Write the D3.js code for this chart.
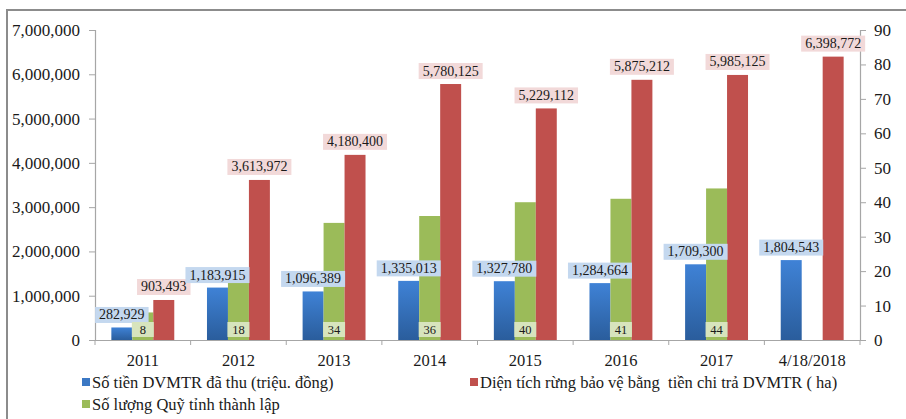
<!DOCTYPE html>
<html><head><meta charset="utf-8">
<script src="https://cdn.jsdelivr.net/npm/d3@7"></script>
</head>
<body style="margin:0">
<svg id="c" width="906" height="419" font-family="Liberation Serif" style="display:block;font-family:'Liberation Serif'"></svg>
<script>
const categories = ["2011","2012","2013","2014","2015","2016","2017","4/18/2018"];
const revenue = [282929,1183915,1096389,1335013,1327780,1284664,1709300,1804543];
const funds = [8,18,34,36,40,41,44,null];
const forestArea = [903493,3613972,4180400,5780125,5229112,5875212,5985125,6398772];
const leftTicks = [0,1000000,2000000,3000000,4000000,5000000,6000000,7000000];
const rightTicks = [0,10,20,30,40,50,60,70,80,90];
const seriesNames = ["Số tiền DVMTR đã thu (triệu. đồng)","Diện tích rừng bảo vệ bằng  tiền chi trả DVMTR ( ha)","Số lượng Quỹ tỉnh thành lập"];

const FONT = '"Liberation Serif"';
const svg = d3.select("#c");
const L = 95, R = 860, T = 30, B = 340;
const colBlue = "#3b78c4", colRed = "#c0504d", colGreen = "#9bbb59";
const textCol = "#1a1a1a", axisCol = "#a6a6a6";

const defs = svg.append("defs");
const g1 = defs.append("linearGradient").attr("id","gb").attr("x1",0).attr("y1",0).attr("x2",0).attr("y2",1);
g1.append("stop").attr("offset","0%").attr("stop-color","#3f82d6");
g1.append("stop").attr("offset","100%").attr("stop-color","#2a5d9c");

// frame
svg.append("path").attr("d","M7,419 V10 H906").attr("fill","none").attr("stroke","#8c8c8c").attr("stroke-width",2);

const x0 = d3.scaleBand().domain(categories).range([L,R]).padding(0);
const x1 = d3.scaleBand().domain(["b","g","r"]).range([0,x0.bandwidth()]).paddingInner(0).paddingOuter(0.78);
const y = d3.scaleLinear().domain([0,7000000]).range([B,T]);
const y2 = d3.scaleLinear().domain([0,90]).range([B,T]);

// axes
const fmt = d3.format(",");
const ax = svg.append("g").attr("transform",`translate(${L},0)`)
  .call(d3.axisLeft(y).tickValues(leftTicks).tickFormat(fmt).tickSize(6).tickPadding(9));
const ax2 = svg.append("g").attr("transform",`translate(${R},0)`)
  .call(d3.axisRight(y2).tickValues(rightTicks).tickSize(6).tickPadding(8));
const axb = svg.append("g").attr("transform",`translate(0,${B})`)
  .call(d3.axisBottom(x0).tickSize(0).tickPadding(14));
[ax,ax2,axb].forEach(a=>a.attr("font-family","Liberation Serif"));
[ax,ax2].forEach(a=>a.selectAll("text").style("font-size","17px"));
axb.selectAll("text").style("font-size","16.5px");
[ax,ax2,axb].forEach(a=>{
  a.select(".domain").attr("stroke",axisCol).attr("stroke-width",1.2);
  a.selectAll(".tick line").attr("stroke",axisCol);
  a.selectAll("text").attr("fill",textCol).attr("font-family","Liberation Serif").style("font-family",FONT);
});
// x boundary ticks
svg.append("g").selectAll("line").data(categories.concat(["_end"])).join("line")
  .attr("x1",(d,i)=> L + i*x0.step()).attr("x2",(d,i)=> L + i*x0.step())
  .attr("y1",B).attr("y2",B+5).attr("stroke",axisCol);

// bars
const groups = svg.append("g").selectAll("g").data(categories).join("g")
  .attr("transform",d=>`translate(${x0(d)},0)`);
groups.append("rect").attr("x",x1("b")).attr("width",x1.bandwidth())
  .attr("y",(d,i)=>y(revenue[i])).attr("height",(d,i)=>B-y(revenue[i])).attr("fill","url(#gb)");
groups.filter((d,i)=>funds[i]!=null).append("rect").attr("x",x1("g")).attr("width",x1.bandwidth())
  .attr("y",d=>y2(funds[categories.indexOf(d)])).attr("height",d=>B-y2(funds[categories.indexOf(d)])).attr("fill",colGreen);
groups.append("rect").attr("x",x1("r")).attr("width",x1.bandwidth())
  .attr("y",(d,i)=>y(forestArea[i])).attr("height",(d,i)=>B-y(forestArea[i])).attr("fill",colRed);

// labels
function label(cx, cy, txt, fill){
  const g = svg.append("g");
  const t = g.append("text").attr("x",cx).attr("y",cy).attr("text-anchor","middle")
    .attr("dominant-baseline","central").attr("fill",textCol)
    .style("font-family",FONT).style("font-size","14px").text(txt);
  const w = t.node().getComputedTextLength();
  g.insert("rect","text").attr("x",cx-w/2-4).attr("y",cy-8).attr("width",w+8).attr("height",16).attr("fill",fill);
}
categories.forEach((c,i)=>{
  label(x0(c)+x1("b")+x1.bandwidth()/2, y(revenue[i])-12.5, fmt(revenue[i]), "#c4d8ef");
  label(x0(c)+x1("r")+x1.bandwidth()/2, y(forestArea[i])-13, fmt(forestArea[i]), "#f2d9d9");
});
categories.forEach((c,i)=>{
  if(funds[i]==null) return;
  const cx = x0(c)+x1("g")+x1.bandwidth()/2;
  const g = svg.append("g");
  g.append("rect").attr("x",cx-11).attr("y",B-18).attr("width",22).attr("height",15).attr("fill","#d7e4bd");
  g.append("text").attr("x",cx).attr("y",B-10.5).attr("text-anchor","middle").attr("dominant-baseline","central")
    .attr("fill",textCol).style("font-family",FONT).style("font-size","12.5px").text(funds[i]);
});

// legend
const legend = [
  {name:seriesNames[0], col:colBlue, x:82, y:382},
  {name:seriesNames[1], col:colRed, x:470, y:382},
  {name:seriesNames[2], col:colGreen, x:82, y:404}
];
const lg = svg.append("g").selectAll("g").data(legend).join("g").attr("transform",d=>`translate(${d.x},${d.y})`);
lg.append("rect").attr("x",0).attr("y",-4).attr("width",8).attr("height",8).attr("fill",d=>d.col);
lg.append("text").attr("x",10).attr("y",0).attr("dominant-baseline","central").attr("fill",textCol)
  .style("font-family",FONT).style("font-size","16.5px").style("white-space","pre").text(d=>d.name);
</script></body></html>
